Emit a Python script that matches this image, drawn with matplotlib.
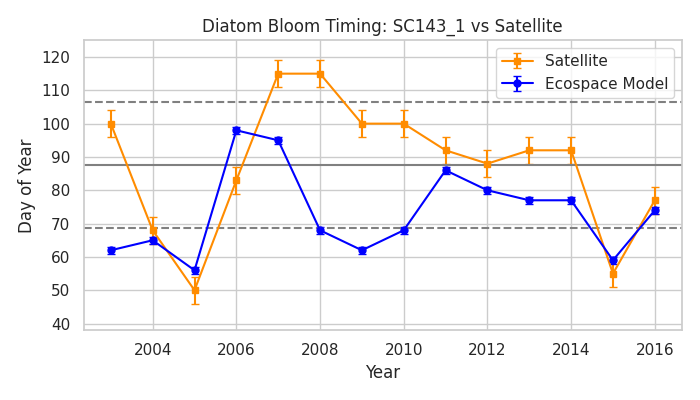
import matplotlib
matplotlib.use("Agg")
import matplotlib.pyplot as plt
import seaborn as sns

# === Data ===
years = [2003, 2004, 2005, 2006, 2007, 2008, 2009, 2010, 2011, 2012, 2013, 2014, 2015, 2016]
sat_doy = [100, 68, 50, 83, 115, 115, 100, 100, 92, 88, 92, 92, 55, 77]
sat_err = [4, 4, 4, 4, 4, 4, 4, 4, 4, 4, 4, 4, 4, 4]
model_doy = [62, 65, 56, 98, 95, 68, 62, 68, 86, 80, 77, 77, 59, 74]
model_err = [1, 1, 1, 1, 1, 1, 1, 1, 1, 1, 1, 1, 1, 1]
sat_mean = 87.7
sat_upper = 106.6
sat_lower = 68.7

sns.set_theme(style="whitegrid")

fig, ax = plt.subplots(figsize=(7, 4), dpi=100)
ax.errorbar(years, sat_doy, yerr=sat_err, fmt='s-', color='darkorange',
            markersize=5, capsize=3, label='Satellite')
ax.errorbar(years, model_doy, yerr=model_err, fmt='o-', color='blue',
            markersize=5, capsize=3, label='Ecospace Model')
ax.axhline(sat_mean, color='gray', linestyle='-')
ax.axhline(sat_upper, color='gray', linestyle='--')
ax.axhline(sat_lower, color='gray', linestyle='--')

ax.set_ylim(38, 125)
ax.set_xticks(range(2004, 2017, 2))
ax.set_title("Diatom Bloom Timing: SC143_1 vs Satellite")
ax.set_xlabel("Year")
ax.set_ylabel("Day of Year")
ax.legend(loc='upper right')
plt.tight_layout()
plt.savefig("out.png")
